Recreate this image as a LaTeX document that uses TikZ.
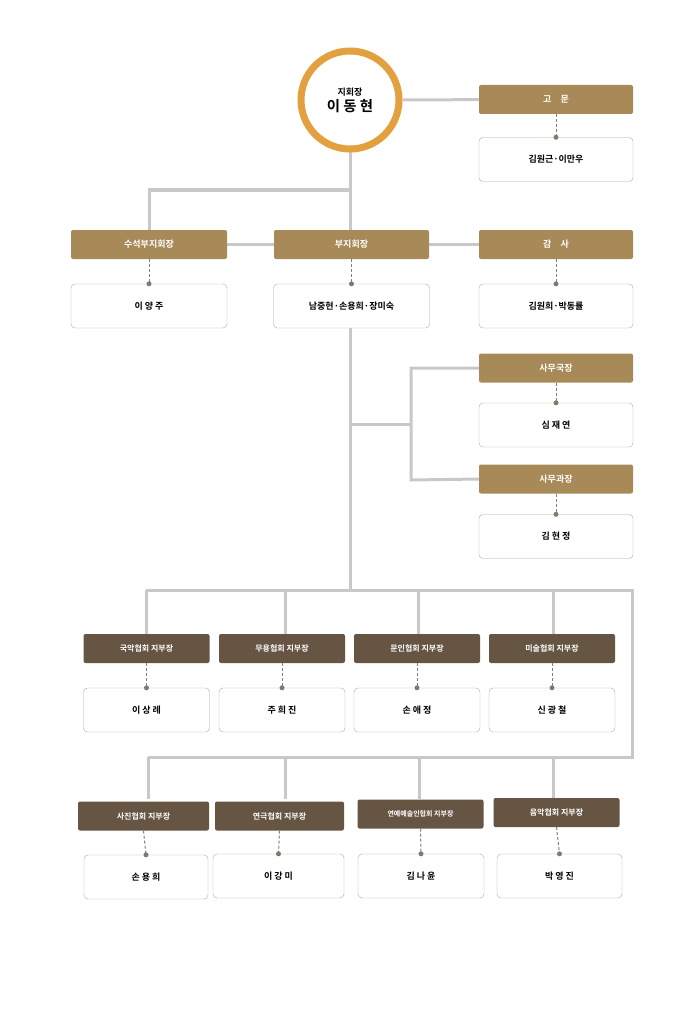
\documentclass[tikz,border=0pt]{standalone}
\usepackage{fontspec}
\setmainfont{Noto Sans CJK KR}[BoldFont={* Bold}]
\usetikzlibrary{positioning,backgrounds}
\definecolor{gold_fil}{RGB}{168, 138, 88}
\definecolor{brown_fil}{RGB}{102, 85, 67}
\definecolor{ring}{RGB}{226, 160, 62}
\definecolor{line_gray}{RGB}{200, 200, 200}
\definecolor{box_out}{RGB}{170, 170, 170}
\tikzset{gold_head/.style = {rectangle, rounded corners=2pt, fill=gold_fil, text=white, font=\bfseries\small, minimum width=154pt, minimum height=29pt, inner sep=0pt}}
\tikzset{brown_head/.style = {rectangle, rounded corners=2pt, fill=brown_fil, text=white, font=\bfseries\footnotesize, minimum width=126pt, minimum height=29pt, inner sep=0pt}}
\tikzset{name_box/.style = {rectangle, rounded corners=4pt, draw=box_out, fill=white, font=\bfseries\small, minimum width=154pt, minimum height=44pt, inner sep=0pt}}
\tikzset{mypath/.style = {line width=3pt, line_gray}}
\tikzset{dashlink/.style = {densely dashed, gray, line width=1pt}}
\tikzset{pin_dot/.style = {circle, fill=brown_fil!80, inner sep=0pt, minimum size=5pt}}
\newcommand\hookup[2]{\draw[dashlink] (#1.south) -- (#2.north); \node[pin_dot] at (#2.north) {};}
\begin{document}
\begin{tikzpicture}[x=1pt,y=-1pt]
\useasboundingbox (0,0) rectangle (700,1011);
% top
\node[circle, draw=ring, line width=7pt, fill=white, minimum size=98pt, inner sep=0pt, align=center] (chief) at (350,100) {{\bfseries\small 지회장}\\[2pt]{\bfseries\Large 이 동 현}};
\node[gold_head] (advisor) at (556,99.5) {고\quad 문};
\node[name_box] (advisorN) at (556,159.5) {김원근·이만우};
\node[gold_head, minimum width=156pt] (senior) at (149,244.5) {수석부지회장};
\node[gold_head, minimum width=155pt] (vice) at (351.5,244.5) {부지회장};
\node[gold_head] (audit) at (556,244.5) {감\quad 사};
\node[name_box, minimum width=156pt] (seniorN) at (149,306) {이 양 주};
\node[name_box, minimum width=156pt] (viceN) at (351.5,306) {남중현·손용희·장미숙};
\node[name_box] (auditN) at (556,306) {김원희·박동률};
\node[gold_head] (office) at (556,368) {사무국장};
\node[name_box] (officeN) at (556,425) {심 재 연};
\node[gold_head] (section) at (556,479) {사무과장};
\node[name_box] (sectionN) at (556,536.5) {김 현 정};
% associations, row 1
\node[brown_head] (h1) at (146.5,648.5) {국악협회 지부장};
\node[brown_head] (h2) at (282,648.5) {무용협회 지부장};
\node[brown_head] (h3) at (417,648.5) {문인협회 지부장};
\node[brown_head] (h4) at (552,648.5) {미술협회 지부장};
\node[name_box, minimum width=126pt] (n1) at (146.5,710) {이 상 례};
\node[name_box, minimum width=126pt] (n2) at (282,710) {주 희 진};
\node[name_box, minimum width=126pt] (n3) at (417,710) {손 애 정};
\node[name_box, minimum width=126pt] (n4) at (552,710) {신 광 철};
% row 2
\node[brown_head, minimum width=131pt] (h5) at (143.5,816) {사진협회 지부장};
\node[brown_head, minimum width=129pt] (h6) at (279.5,816) {연극협회 지부장};
\node[brown_head, font=\bfseries\scriptsize] (h7) at (420.5,814) {연예예술인협회 지부장};
\node[brown_head] (h8) at (556.5,812.5) {음악협회 지부장};
\node[name_box, minimum width=124pt] (n5) at (146,877) {손 용 희};
\node[name_box, minimum width=131pt] (n6) at (278.5,876) {이 강 미};
\node[name_box, minimum width=126pt] (n7) at (421,876) {김 나 윤};
\node[name_box, minimum width=125pt] (n8) at (559.5,876) {박 영 진};
% connectors
\begin{scope}[on background layer]
\draw[mypath] (chief) -- (advisor);
\draw[mypath] (chief.south) -- (350,190) -| (senior.north);
\draw[mypath] (350,190) -- (350,230);
\draw[mypath] (senior) -- (vice);
\draw[mypath] (vice) -- (audit);
\draw[mypath] (350,328) -- (350,590);
\draw[mypath] (350,424) -- (411,424);
\draw[mypath] (office.west) -| (411,480) -- (section.west);
\draw[mypath] (146,590) -- (632,590) -- (632,757) -- (148,757);
\foreach \x in {146,285,418,553}
	\draw[mypath] (\x,590) -- (\x,634);
\foreach \x in {148,285,419,553}
	\draw[mypath] (\x,757) -- (\x,799);
\end{scope}
\hookup{advisor}{advisorN}
\hookup{senior}{seniorN}
\hookup{vice}{viceN}
\hookup{audit}{auditN}
\hookup{office}{officeN}
\hookup{section}{sectionN}
\foreach \i in {1,...,8}{
	\hookup{h\i}{n\i}
	}
\end{tikzpicture}
\end{document}
